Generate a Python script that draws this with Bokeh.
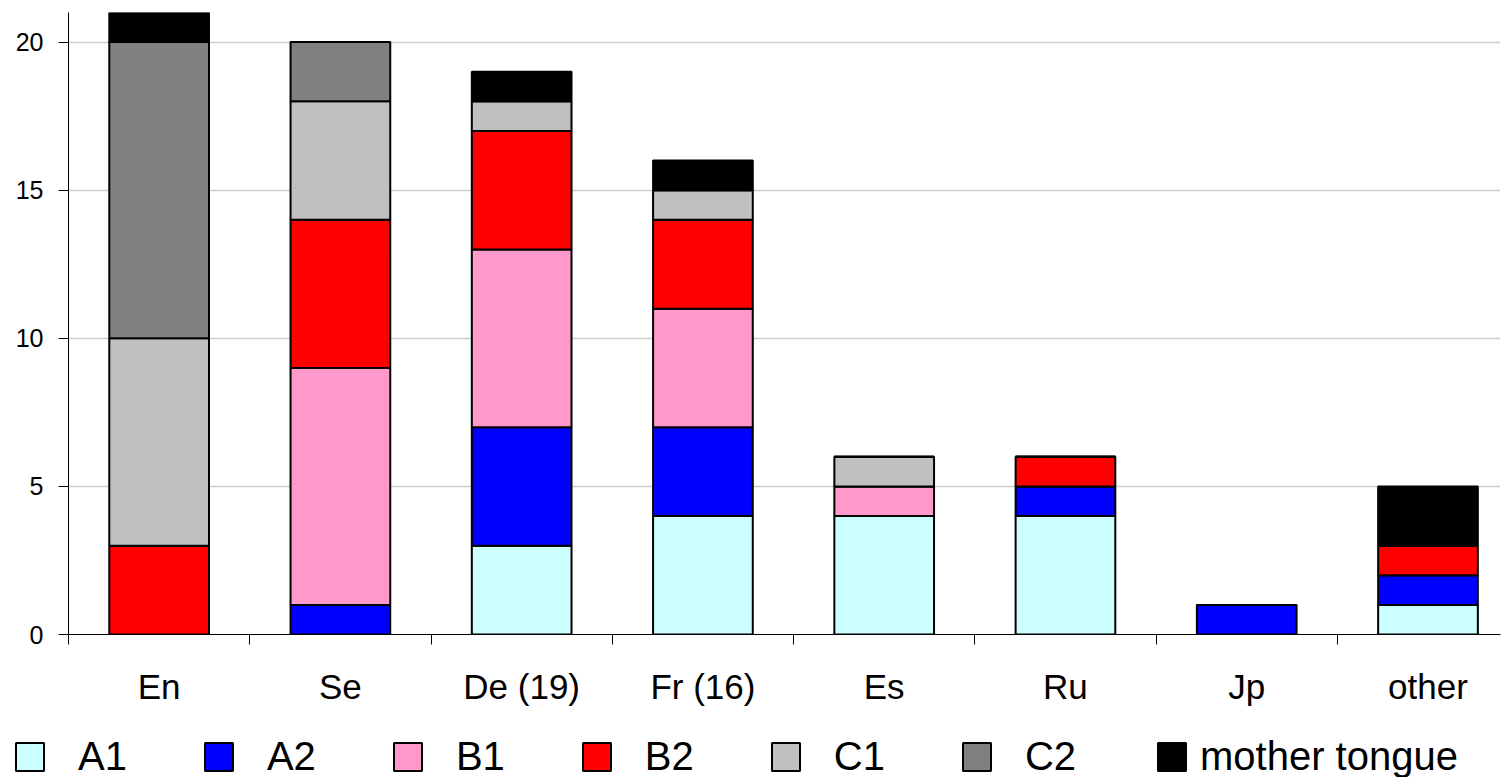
from bokeh.plotting import figure
from bokeh.layouts import column
from bokeh.models import ColumnDataSource, FixedTicker, Legend, LegendItem
from bokeh.embed import file_html
from bokeh.resources import INLINE

# Languages and number of people per proficiency level
languages = ["En", "Se", "De (19)", "Fr (16)", "Es", "Ru", "Jp", "other"]
levels = ["A1", "A2", "B1", "B2", "C1", "C2", "mother tongue"]
a1 = [0, 0, 3, 4, 4, 4, 0, 1]
a2 = [0, 1, 4, 3, 0, 1, 1, 1]
b1 = [0, 8, 6, 4, 1, 0, 0, 0]
b2 = [3, 5, 4, 3, 0, 1, 0, 1]
c1 = [7, 4, 1, 1, 1, 0, 0, 0]
c2 = [10, 2, 0, 0, 0, 0, 0, 0]
mother = [1, 0, 1, 1, 0, 0, 0, 2]
colors = ["#CCFFFF", "#0000FF", "#FF99CC", "#FF0000", "#C0C0C0", "#808080", "#000000"]
y_ticks = [0, 5, 10, 15, 20]

FONT = "Liberation Sans"
W = 1501
H_MAIN = 717
H_LEG = 60

xs = [i + 0.5 for i in range(len(languages))]
keys = ["a1", "a2", "b1", "b2", "c1", "c2", "mother"]
source = ColumnDataSource(dict(x=xs, a1=a1, a2=a2, b1=b1, b2=b2, c1=c1, c2=c2, mother=mother))

p = figure(width=W, height=H_MAIN, output_backend="svg", toolbar_location=None,
           x_range=(0, 7.9), y_range=(0, 21),
           min_border_left=68, min_border_right=1, min_border_top=12,
           min_border_bottom=H_MAIN - 634)
p.outline_line_color = None
p.frame_align = False

p.vbar_stack(keys, x="x", width=0.55, source=source, fill_color=colors,
             line_color="black", line_width=2)

# x axis: labels at category centres, tick marks on the category boundaries
p.xaxis.ticker = FixedTicker(ticks=xs, minor_ticks=list(range(len(languages) + 1)))
p.xaxis.major_label_overrides = {x: lab for x, lab in zip(xs, languages)}
p.xaxis.major_tick_out = 0
p.xaxis.major_tick_in = 0
p.xaxis.minor_tick_out = 10
p.xaxis.minor_tick_in = 0
p.xaxis.minor_tick_line_color = "black"
p.xaxis.axis_line_color = "black"
p.xaxis.major_label_text_font = FONT
p.xaxis.major_label_text_font_size = "35px"
p.xaxis.major_label_text_color = "black"
p.xaxis.major_label_standoff = 22
p.xgrid.grid_line_color = None

# y axis
p.yaxis.ticker = FixedTicker(ticks=y_ticks)
p.yaxis.major_tick_out = 10
p.yaxis.major_tick_in = 0
p.yaxis.minor_tick_line_color = None
p.yaxis.axis_line_color = "black"
p.yaxis.major_label_text_font = FONT
p.yaxis.major_label_text_font_size = "25px"
p.yaxis.major_label_text_color = "black"
p.yaxis.major_label_standoff = 15
p.ygrid.grid_line_color = "#cccccc"
p.ygrid.grid_line_width = 1.5

# legend strip under the chart; the swatch renderers hold no drawable point
lg = figure(width=W, height=H_LEG, output_backend="svg", toolbar_location=None,
            x_range=(0, 1), y_range=(0, 1), x_axis_type=None, y_axis_type=None,
            min_border_left=0, min_border_right=0, min_border_top=0, min_border_bottom=0)
lg.outline_line_color = None
lg.grid.visible = False
lg.frame_align = False
nan = float("nan")
swatches = [lg.vbar(x=[nan], top=[nan], width=0.5, fill_color=c, line_color="black", line_width=2)
            for c in colors]

common = dict(orientation="horizontal", glyph_width=35, glyph_height=35,
              label_text_font=FONT, label_text_font_size="40px", label_text_color="black",
              padding=0, margin=0, border_line_color=None, background_fill_alpha=0)
leg1 = Legend(items=[LegendItem(label=lv, renderers=[r]) for lv, r in zip(levels[:6], swatches[:6])],
              location=(12, -2), label_standoff=31, spacing=74, **common)
leg2 = Legend(items=[LegendItem(label=levels[6], renderers=[swatches[6]])],
              location=(1154, -2), label_standoff=11, **common)
lg.add_layout(leg1, "center")
lg.add_layout(leg2, "center")

open("out.html", "w").write(file_html(column(p, lg, spacing=0), INLINE))
